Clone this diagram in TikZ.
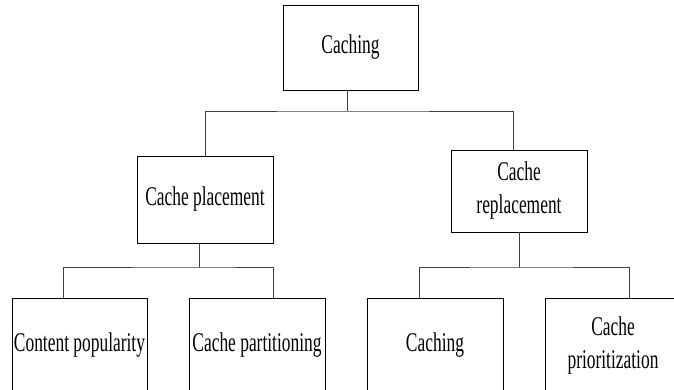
\documentclass[tikz,border=0pt]{standalone}
\usepackage{fontspec}
\newfontfamily\tnr[FakeStretch=0.645]{Liberation Serif}
\begin{document}
\begin{tikzpicture}[x=1pt,y=-1pt,
  box/.style={draw=black,line width=0.8pt,rectangle,inner sep=0pt,align=center,
    font=\tnr\fontsize{27}{33}\selectfont,text=black},
  conn/.style={draw=black!75,line width=1pt}]
\useasboundingbox (0,0) rectangle (674,389);
\clip (0,0) rectangle (674,389);
\node[box,minimum width=135pt,minimum height=85pt] (top) at (350.5,47.5) {Caching};
\node[box,minimum width=136pt,minimum height=87pt] (place) at (205,199.5) {Cache placement};
\node[box,minimum width=136pt,minimum height=82pt] (repl) at (519,191) {Cache\\replacement};
\node[box,minimum width=135pt,minimum height=94pt] (cp) at (79.5,345) {Content popularity};
\node[box,minimum width=136pt,minimum height=94pt] (part) at (257,345) {Cache partitioning};
\node[box,minimum width=136pt,minimum height=94pt] (cach) at (435,345) {Caching};
\node[box,minimum width=136pt,minimum height=94pt] (prio) at (613,345) {Cache\\prioritization};
\coordinate (b1) at (347,111);
\coordinate (b2) at (199,267);
\coordinate (b3) at (519,267);
\draw[conn] ([xshift=-3.5pt]top.south) -- (b1);
\draw[conn] (place.north) |- (b1) -| ([xshift=-6pt]repl.north);
\draw[conn] ([xshift=-6pt]place.south) -- (b2);
\draw[conn] ([xshift=-16.5pt]cp.north) |- (b2) -| ([xshift=16pt]part.north);
\draw[conn] (repl.south) -- (b3);
\draw[conn] ([xshift=-16pt]cach.north) |- (b3) -| ([xshift=16pt]prio.north);
\end{tikzpicture}
\end{document}
